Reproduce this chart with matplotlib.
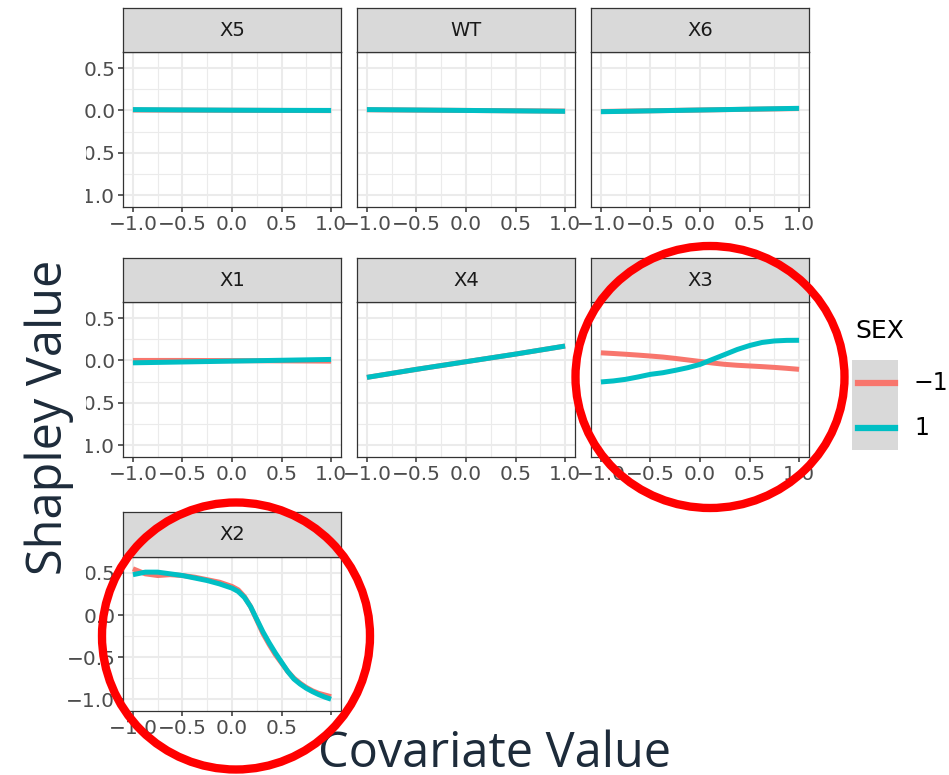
import numpy as np
import matplotlib.pyplot as plt
from matplotlib.patches import Rectangle, Ellipse
from matplotlib.lines import Line2D

# canvas size in pixels
W, H = 949, 775

# facet order (facet_wrap, 3 columns)
covariates = ['X5', 'WT', 'X6', 'X1', 'X4', 'X3', 'X2']
sex_levels = ['\u22121', '1']
sex_colors = ['#F8766D', '#00BFC4']

# covariate value grids
x5 = [-1.0, -0.5, 0.0, 0.5, 1.0]
x17 = [-1.0, -0.875, -0.75, -0.625, -0.5, -0.375, -0.25, -0.125, 0.0,
       0.125, 0.25, 0.375, 0.5, 0.625, 0.75, 0.875, 1.0]
x25 = [-1.0, -0.875, -0.75, -0.625, -0.5, -0.375, -0.25, -0.125, 0.0,
       0.0625, 0.125, 0.1875, 0.25, 0.3125, 0.375, 0.4375, 0.5,
       0.5625, 0.625, 0.6875, 0.75, 0.8125, 0.875, 0.9375, 1.0]

# smoothed shapley values, SEX = -1 / SEX = 1
shap_x5_m = [0.005, 0.004, 0.002, 0.0, -0.002]
shap_x5_p = [0.01, 0.006, 0.003, 0.001, 0.0]
shap_wt_m = [0.008, 0.004, 0.0, -0.004, -0.008]
shap_wt_p = [0.01, 0.005, 0.0, -0.005, -0.01]
shap_x6_m = [-0.012, -0.004, 0.005, 0.014, 0.022]
shap_x6_p = [-0.015, -0.005, 0.005, 0.015, 0.025]
shap_x1_m = [0.0, 0.0, -0.002, -0.005, -0.008]
shap_x1_p = [-0.028, -0.018, -0.008, 0.002, 0.012]
shap_x4_m = [-0.2, -0.105, -0.015, 0.075, 0.17]
shap_x4_p = [-0.2, -0.105, -0.015, 0.075, 0.17]
shap_x3_m = [0.09, 0.082, 0.073, 0.063, 0.052, 0.04, 0.024, 0.006, -0.012,
             -0.03, -0.046, -0.057, -0.065, -0.073, -0.082, -0.093, -0.105]
shap_x3_p = [-0.254, -0.242, -0.223, -0.195, -0.164, -0.145, -0.117, -0.086,
             -0.047, 0.012, 0.07, 0.129, 0.176, 0.212, 0.23, 0.237, 0.238]
shap_x2_m = [0.55, 0.49, 0.47, 0.48, 0.47, 0.45, 0.42, 0.39, 0.34,
             0.30, 0.22, 0.10, -0.06, -0.22, -0.35, -0.47, -0.57,
             -0.67, -0.75, -0.81, -0.86, -0.90, -0.93, -0.95, -0.97]
shap_x2_p = [0.48, 0.51, 0.51, 0.49, 0.47, 0.44, 0.41, 0.37, 0.32,
             0.28, 0.21, 0.10, -0.05, -0.20, -0.33, -0.45, -0.56,
             -0.67, -0.76, -0.82, -0.87, -0.91, -0.945, -0.975, -1.0]

curves = {
    'X5': (x5, shap_x5_m, shap_x5_p),
    'WT': (x5, shap_wt_m, shap_wt_p),
    'X6': (x5, shap_x6_m, shap_x6_p),
    'X1': (x5, shap_x1_m, shap_x1_p),
    'X4': (x5, shap_x4_m, shap_x4_p),
    'X3': (x17, shap_x3_m, shap_x3_p),
    'X2': (x25, shap_x2_m, shap_x2_p),
}

x_major = [-1.0, -0.5, 0.0, 0.5, 1.0]
x_minor = [-0.75, -0.25, 0.25, 0.75]
y_major = [0.5, 0.0, -0.5, -1.0]
y_minor = [0.25, -0.25, -0.75]

plt.rcParams['font.family'] = ['DejaVu Sans']
plt.rcParams['axes.unicode_minus'] = True


def px_rect(l, t, r, b):
    return [l / W, 1 - b / H, (r - l) / W, (b - t) / H]


fig = plt.figure(figsize=(W / 100, H / 100), dpi=100)
fig.patch.set_facecolor('white')

col_left = [123, 357, 591]
col_width = 218
rows = [(8, 52, 207), (258, 302, 457), (512, 557, 711)]

for i, name in enumerate(covariates):
    r, c = divmod(i, 3)
    st, pt, pb = rows[r]
    l = col_left[c]
    ax = fig.add_axes(px_rect(l, pt, l + col_width, pb))
    xs, ym, yp = curves[name]
    ax.plot(xs, ym, color=sex_colors[0], lw=3.6, solid_capstyle='butt',
            solid_joinstyle='round', zorder=3)
    ax.plot(xs, yp, color=sex_colors[1], lw=3.6, solid_capstyle='butt',
            solid_joinstyle='round', zorder=4)
    ax.set_xlim(-1.1, 1.1)
    ax.set_ylim(-1.14, 0.69)
    ax.set_xticks(x_major)
    ax.set_xticks(x_minor, minor=True)
    ax.set_yticks(y_major)
    ax.set_yticks(y_minor, minor=True)
    ax.set_xticklabels(['\u22121.0', '\u22120.5', '0.0', '0.5', '1.0'])
    if c == 0:
        ax.set_yticklabels(['0.5', '0.0', '\u22120.5', '\u22121.0'])
    else:
        ax.set_yticklabels([])
    ax.grid(which='major', color='#ebebeb', lw=1.5, zorder=0)
    ax.grid(which='minor', color='#ebebeb', lw=0.8, zorder=0)
    ax.set_axisbelow(True)
    ax.tick_params(which='major', length=3.5, width=1.1, color='#333333',
                   labelcolor='#4d4d4d', labelsize=14.5, pad=2)
    ax.tick_params(which='minor', length=0)
    if c != 0:
        ax.tick_params(axis='y', which='major', length=0)
    for sp in ax.spines.values():
        sp.set_color('#333333')
        sp.set_linewidth(0.9)

    # facet strip
    sax = fig.add_axes(px_rect(l, st, l + col_width, pt))
    sax.set_facecolor('#d9d9d9')
    sax.set_xticks([])
    sax.set_yticks([])
    for sp in sax.spines.values():
        sp.set_color('#333333')
        sp.set_linewidth(0.9)
    sax.text(0.5, 0.5, name, transform=sax.transAxes, ha='center', va='center',
             fontsize=14, color='#1a1a1a')

# legend
fig.text(855 / W, 1 - 331 / H, 'SEX', fontsize=18, color='black',
         ha='left', va='center')
fig.add_artist(Rectangle((852 / W, 1 - 450 / H), 46 / W, 90 / H,
                         transform=fig.transFigure, facecolor='#d9d9d9',
                         edgecolor='none'))
for k, (lab, col) in enumerate(zip(sex_levels, sex_colors)):
    yk = 383 + k * 45
    fig.add_artist(Line2D([858 / W, 895 / W], [1 - yk / H, 1 - yk / H],
                          transform=fig.transFigure, color=col, lw=4.5))
    fig.text(914 / W, 1 - yk / H, lab, fontsize=17, color='black',
             ha='left', va='center')

# axis titles with white boxes behind
label_color = '#1d2b3a'
fig.add_artist(Rectangle((18 / W, 1 - 590 / H), 68 / W, 450 / H,
                         transform=fig.transFigure, facecolor='white',
                         edgecolor='none', zorder=2))
fig.text(49 / W, 1 - 417 / H, 'Shapley Value', rotation=90, fontsize=35,
         family='Open Sans', color=label_color,
         ha='center', va='center', zorder=3)
fig.add_artist(Rectangle((312 / W, 0), 366 / W, 60 / H,
                         transform=fig.transFigure, facecolor='white',
                         edgecolor='none', zorder=2))
fig.text(495 / W, 1 - 767 / H, 'Covariate Value', fontsize=35,
         family='Open Sans', color=label_color,
         ha='center', va='baseline', zorder=3)

# red highlight rings
for cx, cy, ew, eh in [(710, 377, 269, 262), (236, 636, 268, 267)]:
    fig.add_artist(Ellipse((cx / W, 1 - cy / H), ew / W, eh / H,
                           transform=fig.transFigure, facecolor='none',
                           edgecolor='#ff0000', lw=6, zorder=4))

fig.savefig('out.png', dpi=100)
